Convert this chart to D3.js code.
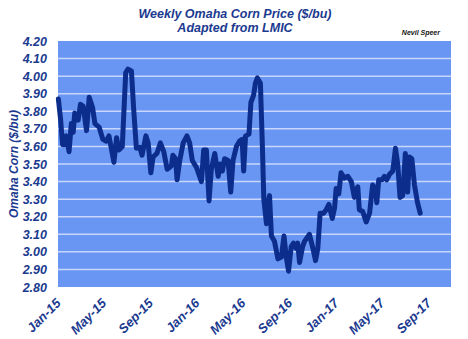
<!DOCTYPE html>
<html>
<head>
<meta charset="utf-8">
<script src="https://cdn.jsdelivr.net/npm/d3@7"></script>
<style>
  html, body { margin: 0; padding: 0; background: #ffffff; }
  svg text { font-family: "Liberation Sans", Arial, sans-serif; }
</style>
</head>
<body>
<svg id="chart" width="468" height="339"></svg>
<script>
// Weekly Omaha corn price, $/bu
const dates = [
  "2015-01-02","2015-01-08","2015-01-13","2015-01-19","2015-01-23","2015-01-30",
  "2015-02-05","2015-02-10","2015-02-14","2015-02-23","2015-03-01","2015-03-08",
  "2015-03-17","2015-03-24","2015-04-02","2015-04-08","2015-04-19","2015-04-29",
  "2015-05-08","2015-05-15","2015-05-28","2015-06-04","2015-06-10","2015-06-19",
  "2015-06-28","2015-07-04","2015-07-13","2015-07-19","2015-07-26","2015-08-04",
  "2015-08-10","2015-08-20","2015-08-26","2015-09-02","2015-09-08","2015-09-18",
  "2015-09-27","2015-10-06","2015-10-15","2015-10-26","2015-10-30","2015-11-06",
  "2015-11-10","2015-11-17","2015-11-26","2015-12-06","2015-12-13","2015-12-20",
  "2015-12-31","2016-01-13","2016-01-19","2016-01-26","2016-02-02","2016-02-08",
  "2016-02-17","2016-02-26","2016-03-03","2016-03-08","2016-03-14","2016-03-23",
  "2016-03-30","2016-04-05","2016-04-14","2016-04-22","2016-04-29","2016-05-03",
  "2016-05-08","2016-05-17","2016-05-22","2016-05-29","2016-06-03","2016-06-08",
  "2016-06-16","2016-06-21","2016-06-25","2016-07-02","2016-07-08","2016-07-10",
  "2016-07-15","2016-07-23","2016-08-01","2016-08-10","2016-08-17","2016-08-23",
  "2016-08-29","2016-09-05","2016-09-11","2016-09-18","2016-09-22","2016-09-27",
  "2016-10-05","2016-10-10","2016-10-23","2016-11-01","2016-11-08","2016-11-14",
  "2016-11-20","2016-11-29","2016-12-06","2016-12-13","2016-12-22","2016-12-28",
  "2017-01-01","2017-01-08","2017-01-14","2017-01-23","2017-02-01","2017-02-10",
  "2017-02-18","2017-02-27","2017-03-03","2017-03-12","2017-03-21","2017-03-30",
  "2017-04-07","2017-04-14","2017-04-18","2017-04-23","2017-05-02","2017-05-08",
  "2017-05-14","2017-05-21","2017-05-30","2017-06-06","2017-06-12","2017-06-18",
  "2017-06-25","2017-07-02","2017-07-08","2017-07-13","2017-07-19","2017-07-26",
  "2017-08-03","2017-08-10"
];
const prices = [
  3.87, 3.75, 3.61, 3.61, 3.66, 3.57,
  3.73, 3.68, 3.79, 3.75, 3.84, 3.83,
  3.69, 3.88, 3.82, 3.73, 3.71, 3.64,
  3.63, 3.66, 3.51, 3.65, 3.58, 3.60,
  4.02, 4.04, 4.03, 3.81, 3.59, 3.595,
  3.55, 3.66, 3.62, 3.45, 3.54, 3.56,
  3.62, 3.57, 3.47, 3.49, 3.55, 3.53,
  3.41, 3.52, 3.62, 3.66, 3.62, 3.52,
  3.48, 3.40, 3.58, 3.58, 3.29, 3.47,
  3.56, 3.43, 3.50, 3.46, 3.53, 3.52,
  3.34, 3.52, 3.60, 3.63, 3.64, 3.46,
  3.66, 3.67, 3.85, 3.89, 3.96, 3.99,
  3.96, 3.62, 3.30, 3.16, 3.30, 3.32,
  3.09, 3.06, 2.96, 2.97, 3.09, 2.97,
  2.89, 3.03, 3.05, 3.02, 3.05, 2.94,
  3.03, 3.06, 3.10, 3.02, 2.95, 3.02,
  3.22, 3.22, 3.24, 3.27, 3.19, 3.25,
  3.36, 3.33, 3.45, 3.42, 3.43, 3.40,
  3.31, 3.37, 3.24, 3.23, 3.17, 3.22,
  3.38, 3.36, 3.28, 3.41, 3.41, 3.43,
  3.41, 3.44, 3.46, 3.59, 3.50, 3.31,
  3.32, 3.56, 3.34, 3.54, 3.53, 3.38,
  3.28, 3.22
];
const xTickLabels = ["Jan-15","May-15","Sep-15","Jan-16","May-16","Sep-16","Jan-17","May-17","Sep-17"];
const yTicks = [2.80,2.90,3.00,3.10,3.20,3.30,3.40,3.50,3.60,3.70,3.80,3.90,4.00,4.10,4.20];
const titleLines = ["Weekly Omaha Corn Price ($/bu)", "Adapted from LMIC"];
const yAxisTitle = "Omaha Corn ($/bu)";
const credit = "Nevil Speer";

const parse = d3.timeParse("%Y-%m-%d");
const series = dates.map((d, i) => ({ date: parse(d), value: prices[i] }));

const svg = d3.select("#chart");
const plot = { left: 58, right: 451, top: 41, bottom: 287 };
const navy = "#1b3a8f";

const x = d3.scaleTime()
  .domain([new Date(2015, 0, 1), new Date(2017, 9, 30)])
  .range([plot.left, plot.right]);
const y = d3.scaleLinear()
  .domain([2.80, 4.20])
  .range([plot.bottom, plot.top]);

// plot area
svg.append("rect")
  .attr("x", plot.left).attr("y", plot.top)
  .attr("width", plot.right - plot.left).attr("height", plot.bottom - plot.top)
  .attr("fill", "#6896f2");

// horizontal gridlines
svg.append("g").selectAll("line")
  .data(yTicks.slice(1, -1))
  .join("line")
  .attr("x1", plot.left).attr("x2", plot.right)
  .attr("y1", d => y(d)).attr("y2", d => y(d))
  .attr("stroke", "#c9d6fb").attr("stroke-width", 1.5);

// y axis labels
const yAxis = d3.axisLeft(y).tickValues(yTicks).tickFormat(d3.format(".2f")).tickSize(0).tickPadding(11);
const gy = svg.append("g").attr("transform", `translate(${plot.left},0)`).call(yAxis);
gy.select(".domain").remove();
gy.selectAll("text")
  .attr("fill", navy)
  .style("font-size", "12.5px").style("font-weight", "bold").style("font-style", "italic");

// x axis labels (rotated)
const monthTicks = xTickLabels.map(s => d3.timeParse("%b-%y")(s));
const xAxis = d3.axisBottom(x).tickValues(monthTicks).tickFormat(d3.timeFormat("%b-%y")).tickSize(0);
const gx = svg.append("g").attr("transform", `translate(0,${plot.bottom})`).call(xAxis);
gx.select(".domain").remove();
gx.selectAll("text")
  .attr("fill", navy)
  .attr("text-anchor", "end")
  .attr("dy", null)
  .attr("y", 0)
  .attr("transform", "translate(3,17) rotate(-45)")
  .style("font-size", "13px").style("font-weight", "bold").style("font-style", "italic");

// price line
const line = d3.line().x(d => x(d.date)).y(d => y(d.value));
svg.append("path")
  .datum(series)
  .attr("d", line)
  .attr("fill", "none")
  .attr("stroke", "#0d2d8c")
  .attr("stroke-width", 5)
  .attr("stroke-linejoin", "round")
  .attr("stroke-linecap", "round");

// titles
svg.append("g").selectAll("text")
  .data(titleLines)
  .join("text")
  .attr("x", 235).attr("y", (d, i) => 18 + i * 14)
  .attr("text-anchor", "middle")
  .attr("fill", navy)
  .style("font-size", "12.5px").style("font-weight", "bold").style("font-style", "italic")
  .text(d => d);

svg.append("text")
  .attr("x", 14).attr("y", (plot.top + plot.bottom) / 2)
  .attr("transform", `rotate(-90,14,${(plot.top + plot.bottom) / 2})`)
  .attr("text-anchor", "middle")
  .attr("dy", "0.35em")
  .attr("fill", navy)
  .style("font-size", "12px").style("font-weight", "bold").style("font-style", "italic")
  .text(yAxisTitle);

svg.append("text")
  .attr("x", 440).attr("y", 35)
  .attr("text-anchor", "end")
  .attr("fill", "#111111")
  .style("font-size", "7px").style("font-weight", "bold").style("font-style", "italic")
  .text(credit);
</script>
</body>
</html>
